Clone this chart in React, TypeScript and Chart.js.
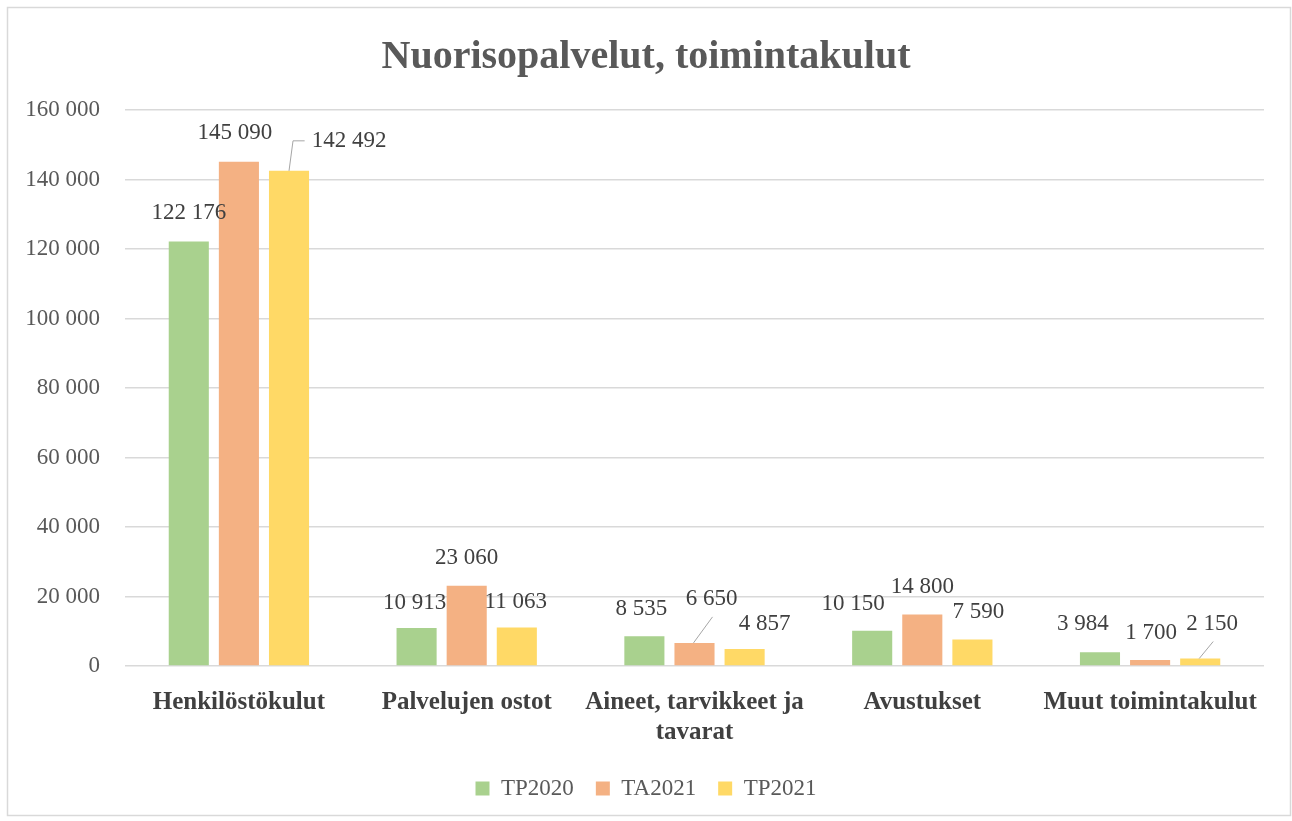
import React, { useEffect, useRef } from "react";
import { Chart, registerables } from "chart.js";

Chart.register(...registerables);

const categories: (string | string[])[] = [
  "Henkilöstökulut",
  "Palvelujen ostot",
  ["Aineet, tarvikkeet ja", "tavarat"],
  "Avustukset",
  "Muut toimintakulut",
];
const seriesNames = ["TP2020", "TA2021", "TP2021"];
const tp2020 = [122176, 10913, 8535, 10150, 3984];
const ta2021 = [145090, 23060, 6650, 14800, 1700];
const tp2021 = [142492, 11063, 4857, 7590, 2150];
const seriesColors = ["#A9D18E", "#F4B183", "#FFD966"];
const yTicks = [0, 20000, 40000, 60000, 80000, 100000, 120000, 140000, 160000];

const FONT = "'Liberation Serif', 'Times New Roman', serif";

const fmt = (v: number) =>
  String(Math.round(v)).replace(/\B(?=(\d{3})+(?!\d))/g, " ");

// label placement tweaks (pixels) relative to default position above each bar: [dataset][index]
const labelShift: { dx: number; dy: number; leader?: "side" | "below" }[][] = [
  [{ dx: 0, dy: 0 }, { dx: -2, dy: 3 }, { dx: -3, dy: 1 }, { dx: -19, dy: 1 }, { dx: -17, dy: 0 }],
  [{ dx: -4, dy: -1 }, { dx: 0, dy: 0 }, { dx: 17, dy: -16, leader: "below" }, { dx: 0, dy: 0 }, { dx: 1, dy: 1 }],
  [{ dx: 60, dy: -2, leader: "side" }, { dx: -1, dy: 2 }, { dx: 20, dy: 3 }, { dx: 6, dy: 0 }, { dx: 12, dy: -7, leader: "below" }],
];

const borderPlugin = {
  id: "outerBorder",
  beforeDraw(chart: any) {
    const ctx = chart.ctx;
    ctx.save();
    ctx.fillStyle = "#ffffff";
    ctx.fillRect(0, 0, chart.width, chart.height);
    ctx.strokeStyle = "#d9d9d9";
    ctx.lineWidth = 1.5;
    ctx.strokeRect(7.5, 7.5, 1283, 808);
    ctx.restore();
  },
};

const labelsPlugin = {
  id: "barValueLabels",
  afterDatasetsDraw(chart: any) {
    const ctx = chart.ctx;
    ctx.save();
    ctx.font = `23px ${FONT}`;
    ctx.fillStyle = "#404040";
    ctx.textAlign = "center";
    ctx.textBaseline = "middle";
    chart.data.datasets.forEach((ds: any, di: number) => {
      const meta = chart.getDatasetMeta(di);
      meta.data.forEach((el: any, i: number) => {
        const v = ds.data[i];
        const s = labelShift[di][i];
        const text = fmt(v);
        const cx = el.x + s.dx;
        const cy = el.y - 28 + s.dy;
        ctx.fillText(text, cx, cy);
        if (s.leader) {
          ctx.strokeStyle = "#a6a6a6";
          ctx.lineWidth = 1;
          ctx.beginPath();
          if (s.leader === "side") {
            const w = ctx.measureText(text).width;
            const lx = cx - w / 2 - 7;
            ctx.moveTo(el.x, el.y);
            ctx.lineTo(el.x + 4, cy);
            ctx.lineTo(lx, cy);
          } else {
            ctx.moveTo(el.x - 1, el.y);
            ctx.lineTo(cx + 1, cy + 18);
          }
          ctx.stroke();
        }
      });
    });
    ctx.restore();
  },
};

export default function App() {
  const ref = useRef<HTMLCanvasElement | null>(null);
  useEffect(() => {
    if (!ref.current) return;
    const chart = new Chart(ref.current, {
      type: "bar",
      data: {
        labels: categories,
        datasets: [tp2020, ta2021, tp2021].map((d, i) => ({
          label: seriesNames[i],
          data: d,
          backgroundColor: seriesColors[i],
          borderWidth: 0,
          categoryPercentage: 0.66,
          barPercentage: 0.8,
        })),
      },
      options: {
        animation: false,
        responsive: false,
        layout: { padding: { left: 0, right: 0, top: 0, bottom: 11 } },
        plugins: {
          tooltip: { enabled: false },
          title: {
            display: true,
            text: "Nuorisopalvelut, toimintakulut",
            color: "#595959",
            font: { family: FONT, size: 40, weight: "bold" },
            padding: { top: 34, bottom: 28 },
          },
          legend: {
            position: "bottom",
            labels: {
              color: "#595959",
              font: { family: FONT, size: 23 },
              boxWidth: 14,
              boxHeight: 14,
              padding: 22,
            },
          },
        },
        scales: {
          x: {
            grid: { display: false },
            border: { display: false },
            ticks: {
              color: "#404040",
              font: { family: FONT, size: 25, weight: "bold" },
              padding: 14,
              maxRotation: 0,
              autoSkip: false,
            },
            afterFit(scale: any) {
              scale.height = 89;
            },
          },
          y: {
            min: 0,
            max: 160000,
            afterBuildTicks(scale: any) {
              scale.ticks = yTicks.map((v) => ({ value: v }));
            },
            grid: { color: "#d9d9d9", lineWidth: 1.5, drawTicks: false },
            border: { display: false },
            ticks: {
              color: "#595959",
              font: { family: FONT, size: 23 },
              padding: 25,
              callback: (v: any) => fmt(Number(v)),
            },
            afterFit(scale: any) {
              scale.width = 125;
            },
          },
          yRightSpace: {
            type: "linear",
            position: "right",
            display: true,
            grid: { display: false, drawTicks: false },
            border: { display: false },
            ticks: { display: false },
            afterFit(scale: any) {
              scale.width = 28;
            },
          },
        },
      },
      plugins: [borderPlugin, labelsPlugin],
    });
    return () => chart.destroy();
  }, []);
  return (
    <div style={{ position: "absolute", left: 0, top: 0, width: 1292, height: 821 }}>
      <canvas ref={ref} width={1292} height={821} style={{ width: 1292, height: 821, display: "block" }} />
    </div>
  );
}
